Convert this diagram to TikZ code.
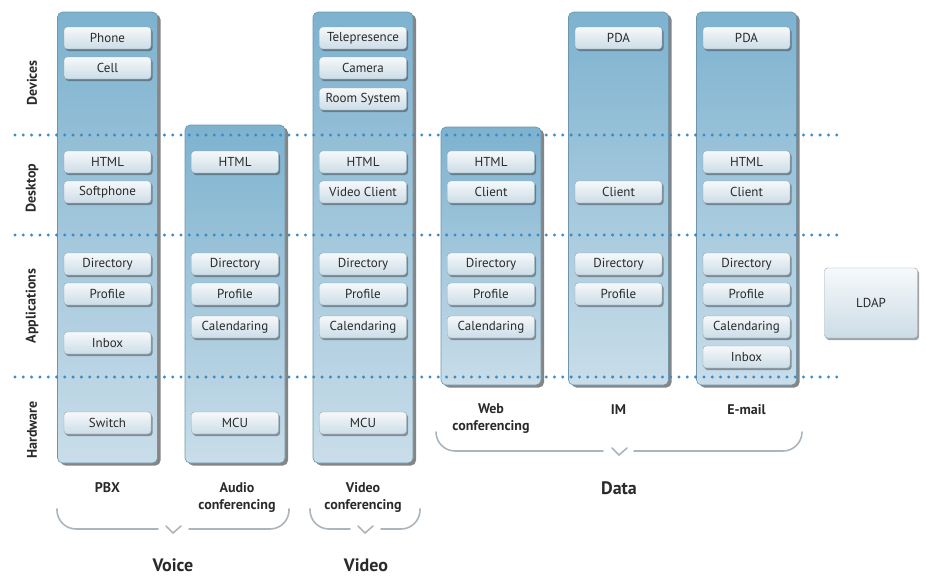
\documentclass[tikz,border=0pt]{standalone}
\usepackage{fontspec}
\setmainfont{PT Sans}
\usetikzlibrary{shadows}

\definecolor{colTop}{HTML}{7DB2CF}
\definecolor{colBottom}{HTML}{C9DDE9}
\definecolor{colEdge}{HTML}{6E95AC}
\definecolor{itemTop}{HTML}{F6F9FB}
\definecolor{itemBottom}{HTML}{CCDCE6}
\definecolor{itemEdge}{HTML}{8EA4B3}
\definecolor{dotBlue}{HTML}{3A8CC8}
\definecolor{braceGray}{HTML}{AAB5BD}
\definecolor{ink}{HTML}{2A2A2A}

\begin{document}
\begin{tikzpicture}[x=1pt,y=-1pt,
        column/.style={rounded corners=5pt,draw=colEdge,line width=0.6pt,
            top color=colTop,bottom color=colBottom,minimum width=100pt,
            inner sep=0pt,drop shadow={shadow xshift=3pt,shadow yshift=-2.5pt,
            fill=black!80,opacity=0.6}},
        item/.style={rounded corners=3pt,draw=itemEdge,line width=0.4pt,
            top color=itemTop,bottom color=itemBottom,minimum width=87pt,
            minimum height=22pt,inner sep=0pt,text=ink,
            font=\fontsize{13}{15}\selectfont,
            drop shadow={shadow xshift=1.5pt,shadow yshift=-2pt,
            fill=black!80,opacity=0.45}},
        layer/.style={dotBlue,line width=3.3pt,line cap=round,
            dash pattern=on 0pt off 8.3pt},
        side/.style={rotate=90,text=ink,font=\bfseries\fontsize{14}{16}\selectfont},
        colname/.style={align=center,text=ink,
            font=\bfseries\fontsize{14}{17}\selectfont},
        group/.style={text=ink,font=\bfseries\fontsize{18}{20}\selectfont},
        brace/.style={braceGray,line width=1.6pt,line cap=round,
            rounded corners=19pt}]
\useasboundingbox (0,0) rectangle (926,576);

% columns
\node[column,minimum height=451pt] (pbx) at (107.5,237.5) {};
\node[column,minimum height=338pt] (audio) at (235,294) {};
\node[column,minimum height=451pt] (video) at (363,237.5) {};
\node[column,minimum height=258pt] (web) at (491,256) {};
\node[column,minimum height=373pt] (im) at (618.5,198.5) {};
\node[column,minimum height=373pt] (mail) at (746.5,198.5) {};

% PBX
\node[item] (pbx-phone) at (107.5,38) {Phone};
\node[item] (pbx-cell) at (107.5,68) {Cell};
\node[item] (pbx-html) at (107.5,162) {HTML};
\node[item] (pbx-soft) at (107.5,192) {Softphone};
\node[item] (pbx-dir) at (107.5,264) {Directory};
\node[item] (pbx-prof) at (107.5,294) {Profile};
\node[item] (pbx-inbox) at (107.5,343) {Inbox};
\node[item] (pbx-switch) at (107.5,423) {Switch};

% audio conferencing
\node[item] (audio-html) at (235,162) {HTML};
\node[item] (audio-dir) at (235,264) {Directory};
\node[item] (audio-prof) at (235,294) {Profile};
\node[item] (audio-cal) at (235,327) {Calendaring};
\node[item] (audio-mcu) at (235,423) {MCU};

% video conferencing
\node[item] (video-tele) at (363,38) {Telepresence};
\node[item] (video-cam) at (363,68) {Camera};
\node[item] (video-room) at (363,99) {Room System};
\node[item] (video-html) at (363,162) {HTML};
\node[item] (video-client) at (363,192) {Video Client};
\node[item] (video-dir) at (363,264) {Directory};
\node[item] (video-prof) at (363,294) {Profile};
\node[item] (video-cal) at (363,327) {Calendaring};
\node[item] (video-mcu) at (363,423) {MCU};

% web conferencing
\node[item] (web-html) at (491,162) {HTML};
\node[item] (web-client) at (491,192) {Client};
\node[item] (web-dir) at (491,264) {Directory};
\node[item] (web-prof) at (491,294) {Profile};
\node[item] (web-cal) at (491,327) {Calendaring};

% IM
\node[item] (im-pda) at (618.5,38) {PDA};
\node[item] (im-client) at (618.5,192) {Client};
\node[item] (im-dir) at (618.5,264) {Directory};
\node[item] (im-prof) at (618.5,294) {Profile};

% e-mail
\node[item] (mail-pda) at (746.5,38) {PDA};
\node[item] (mail-html) at (746.5,162) {HTML};
\node[item] (mail-client) at (746.5,192) {Client};
\node[item] (mail-dir) at (746.5,264) {Directory};
\node[item] (mail-prof) at (746.5,294) {Profile};
\node[item] (mail-cal) at (746.5,327) {Calendaring};
\node[item] (mail-inbox) at (746.5,357) {Inbox};

\node[item,minimum width=93pt,minimum height=70pt] (ldap) at (871,303) {LDAP};

% layer borders
\foreach \y in {135,235,377}
    \draw[layer] (15,\y) -- (842,\y);

\node[side] (devices) at (32,83) {Devices};
\node[side] (desktop) at (32,188) {Desktop};
\node[side] (apps) at (32,306) {Applications};
\node[side] (hardware) at (32,430) {Hardware};

% column names
\node[colname] (pbx-name) at (107.5,488) {PBX};
\node[colname] (audio-name) at (237,497) {Audio\\conferencing};
\node[colname] (video-name) at (363,497) {Video\\conferencing};
\node[colname] (web-name) at (491,419) {Web\\conferencing};
\node[colname] (im-name) at (618.5,410) {IM};
\node[colname] (mail-name) at (746.5,410) {E-mail};

% braces
\draw[brace] (57,509) -- (57,529) -- (158,529);
\draw[brace] (189,529) -- (289,529) -- (289,509);
\draw[brace,rounded corners=0pt] (166,526) -- (173,533) -- (181,526);
\draw[brace] (310,509) -- (310,529) -- (350,529);
\draw[brace] (381,529) -- (420,529) -- (420,509);
\draw[brace,rounded corners=0pt] (358,526) -- (365,533) -- (373,526);
\draw[brace] (436,432) -- (436,451) -- (603,451);
\draw[brace] (634,451) -- (802,451) -- (802,432);
\draw[brace,rounded corners=0pt] (612,448) -- (619,455) -- (627,448);

\node[group] (voice) at (173,565) {Voice};
\node[group] (videogrp) at (366,565) {Video};
\node[group] (data) at (619,488) {Data};
\end{tikzpicture}
\end{document}
